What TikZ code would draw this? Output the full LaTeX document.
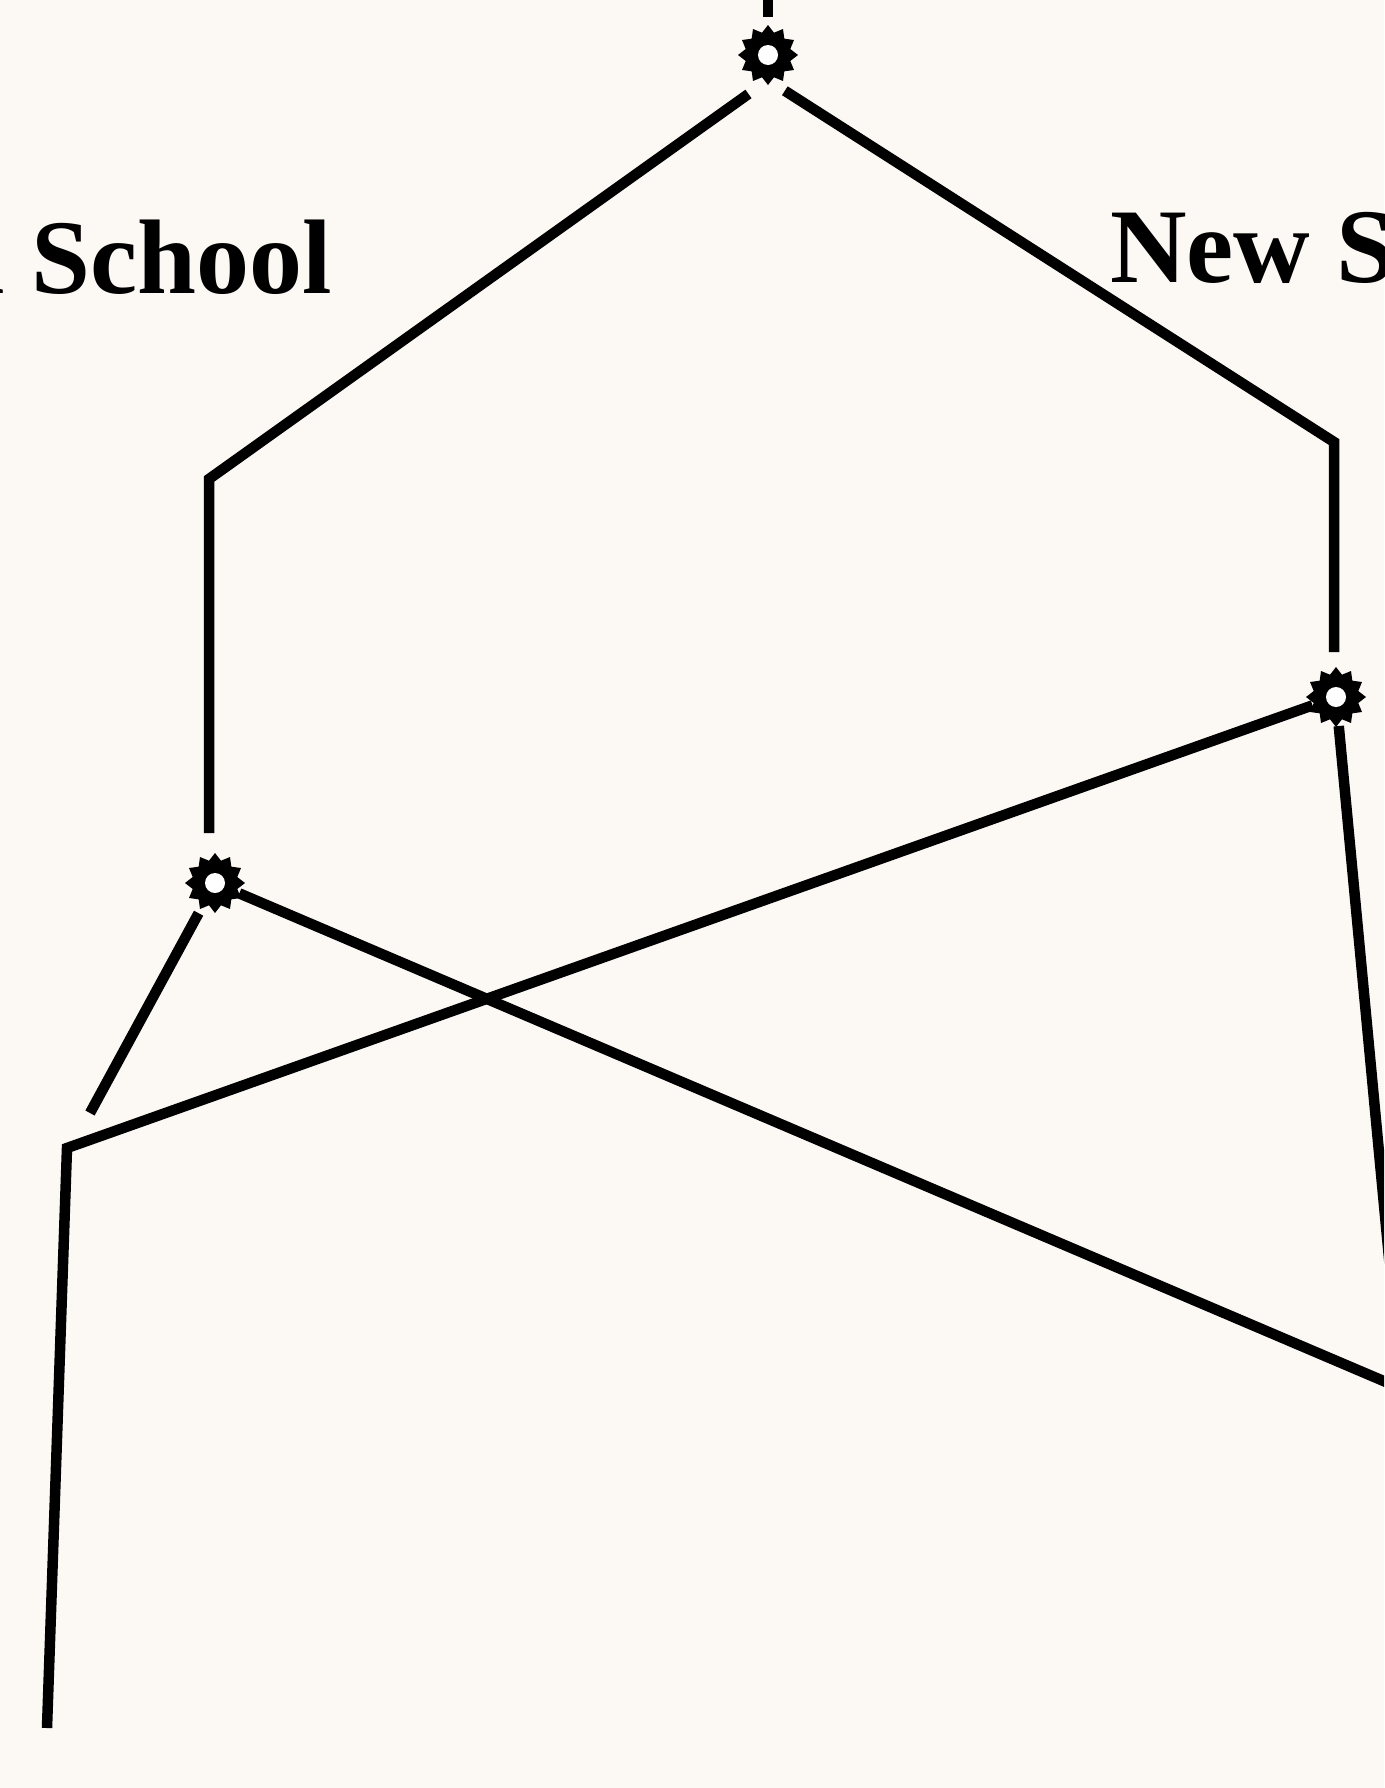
\documentclass[tikz,border=0pt]{standalone}
\usepackage{fontspec}
\setmainfont{Liberation Serif}
\usetikzlibrary{shapes.geometric}
\definecolor{bgcol}{RGB}{252,249,244}
\tikzset{
  wire/.style={line width=10.5pt, line join=miter, black},
  junction/.style={star, star points=12, star point ratio=1.3, minimum size=60pt,
    inner sep=0pt, fill=black, draw=none,
    path picture={\fill[white] (path picture bounding box.center) circle (10pt);}},
  label/.style={font=\fontsize{106}{110}\selectfont\bfseries, inner sep=0pt}
}
\begin{document}
\begin{tikzpicture}[x=1pt,y=-1pt]
\fill[bgcol] (0,0) rectangle (1384,1788);
\useasboundingbox (0,0) rectangle (1384,1788);
\clip (0,0) rectangle (1384,1788);
% junctions
\node[junction] (J1) at (768,55) {};
\node[junction] (J2) at (215,883) {};
\node[junction] (J3) at (1336,697) {};
% free ends and bends
\coordinate (T)  at (768,-20);
\coordinate (L1) at (209,479);
\coordinate (L2) at (209,833);
\coordinate (R1) at (1334,442);
\coordinate (R2) at (1334,652);
\coordinate (S1) at (90,1113);
\coordinate (C1) at (67,1148);
\coordinate (B1) at (47,1728);
\coordinate (E1) at (1400,1388);
\coordinate (E2) at (1392,1290);
% labels
\node[label, anchor=base east] (old) at (332,293) {Old School};
\node[label, anchor=base west] (new) at (1110,282) {New School};
% wires
\draw[wire, shorten >=8pt] (T) -- (J1);
\draw[wire, shorten <=24pt] ([yshift=-25pt]J1.center) -- (L1) -- (L2);
\draw[wire, shorten <=20pt] ([yshift=-25pt]J1.center) -- (R1) -- (R2);
\draw[wire, shorten <=5pt] (J2) -- (S1);
\draw[wire] (J2) -- (E1);
\draw[wire] (J3) -- (C1) -- (B1);
\draw[wire, shorten <=2pt] (J3) -- (E2);
\end{tikzpicture}
\end{document}
